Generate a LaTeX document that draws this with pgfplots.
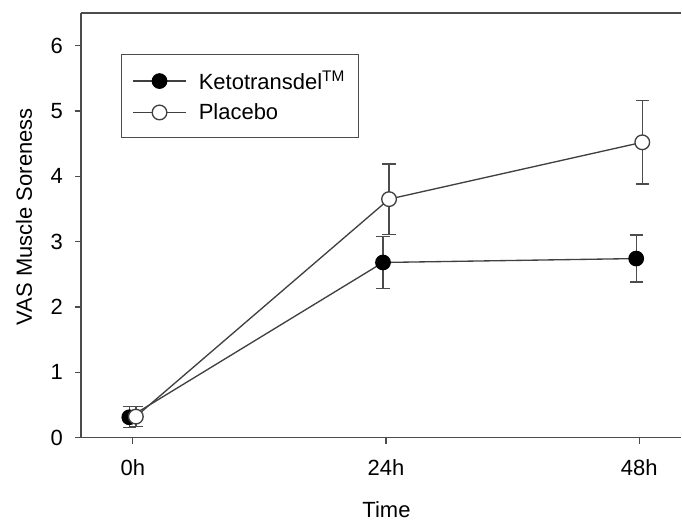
\documentclass[border=0pt]{standalone}
\usepackage{pgfplots}
\pgfplotsset{compat=1.18}
\usepackage{fontspec}
\setmainfont{Liberation Sans}
\definecolor{ln}{gray}{0.25}
\definecolor{ax}{gray}{0.3}
\begin{document}
\begin{tikzpicture}
\begin{axis}[
  scale only axis,
  width=450.75pt, height=318.75pt,
  xmin=-0.205, xmax=2.166,
  ymin=0, ymax=6.5,
  axis x line*=bottom, axis y line*=left,
  axis line style={ax, line width=1.1pt},
  xtick={0,1,2}, xticklabels={0h,24h,48h},
  ytick={0,1,2,3,4,5,6},
  tick align=outside, tick style={ax, line width=1pt}, major tick length=4.5pt,
  /pgf/number format/assume math mode=true,
  tick label style={font=\fontsize{16.5}{18}\selectfont},
  label style={font=\fontsize{16.5}{18}\selectfont},
  xlabel={Time}, ylabel={VAS Muscle Soreness},
  xticklabel style={anchor=center, yshift=-18pt},
  yticklabel style={anchor=east, xshift=-5.5pt},
  xlabel style={at={(rel axis cs:0.509,0)}, anchor=center, yshift=-54pt},
  ylabel style={at={(rel axis cs:0,0.52)}, anchor=center, yshift=42.75pt},
  legend style={at={(0.0666,0.9035)}, anchor=north west, draw=ax, line width=1pt,
    font=\fontsize{16.5}{18}\selectfont, inner xsep=8pt, inner ysep=10pt, row sep=5pt},
  legend cell align=left,
  legend image code/.code={\draw[mark repeat=2,mark phase=2,#1] plot coordinates {(0pt,0pt)(20pt,0pt)(40pt,0pt)};
    \path (47pt,0pt);},
  clip=false,
]
\draw[ax, line width=1.1pt] (rel axis cs:0,1) -- (rel axis cs:1,1);
\path (rel axis cs:0,1) ++(-60.75pt,9.75pt);
\path (rel axis cs:0,0) ++(-60.75pt,-63pt);
\addplot+[ln, line width=1pt, mark=*, mark size=5.5pt, mark options={fill=black, draw=black, line width=0.8pt},
  error bars/.cd, y dir=both, y explicit,
  error bar style={ax, line width=1pt}, error mark options={rotate=90, mark size=5pt, ax, line width=1pt}]
  coordinates {(-0.014,0.31) +- (0,0.16) (0.988,2.68) +- (0,0.40) (1.988,2.74) +- (0,0.36)};
\addlegendentry{Ketotransdel\textsuperscript{TM}}
\addplot+[ln, line width=1pt, mark=*, mark size=5.5pt, mark options={fill=white, draw=ln, line width=1pt},
  error bars/.cd, y dir=both, y explicit,
  error bar style={ax, line width=1pt}, error mark options={rotate=90, mark size=5pt, ax, line width=1pt}]
  coordinates {(0.012,0.32) +- (0,0.15) (1.012,3.65) +- (0,0.54) (2.012,4.52) +- (0,0.64)};
\addlegendentry{Placebo}
\end{axis}
\end{tikzpicture}
\end{document}
